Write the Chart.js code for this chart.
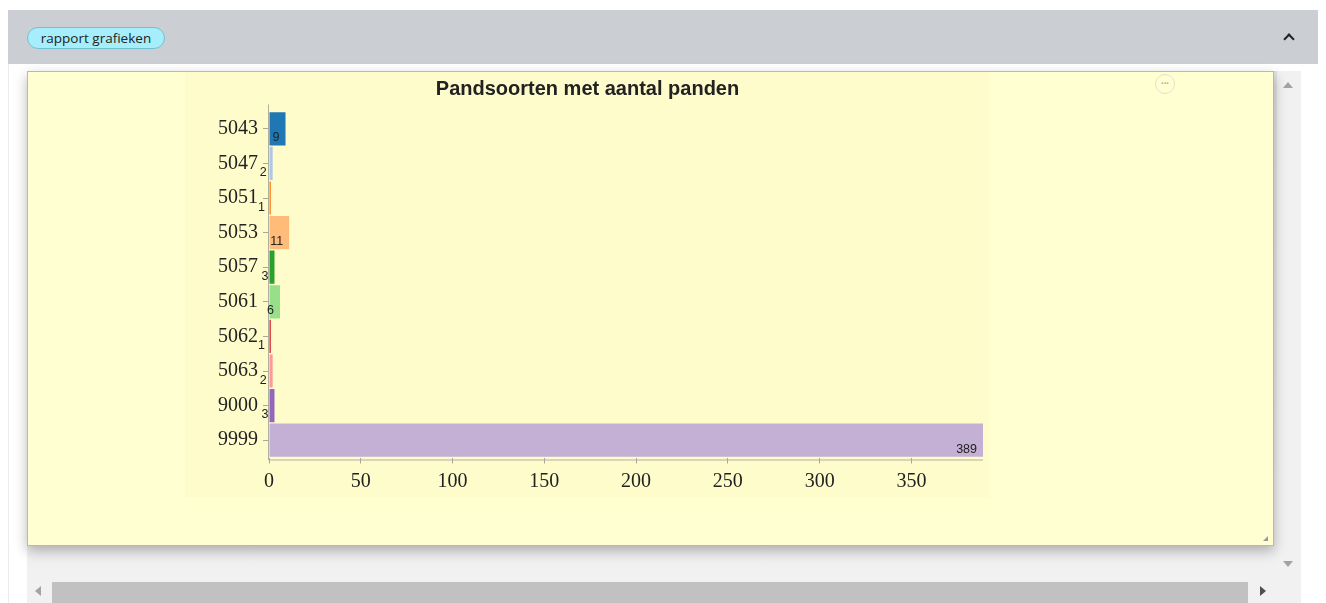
<!DOCTYPE html>
<html>
<head>
<meta charset="utf-8">
<script src="https://cdn.jsdelivr.net/npm/chart.js@4/dist/chart.umd.min.js"></script>
<style>
  html,body{margin:0;padding:0;background:#fff;width:1326px;height:603px;overflow:hidden;position:relative;font-family:"Open Sans","Noto Sans",sans-serif;}
  .abs{position:absolute;}
  #header{left:8px;top:10px;width:1310px;height:54px;background:#cbced2;}
  #pill{left:27px;top:27px;width:136px;height:20px;border-radius:11px;background:#a6eefb;border:1px solid #6ec3d3;font-size:13.5px;line-height:20px;text-align:center;color:#222;}
  #caret{left:1285px;top:35px;width:6px;height:6px;border-left:2.5px solid #222;border-top:2.5px solid #222;transform:rotate(45deg);}
  #leftline{left:8px;top:64px;width:1px;height:539px;background:#ececec;}
  #scrollarea{left:27px;top:71px;width:1250px;height:509px;background:linear-gradient(#e2e2e2 0px,#f1f1f1 100%);}
  #vtrack{left:1277px;top:71px;width:24px;height:532px;background:#f1f1f1;}
  #up{left:1283px;top:82px;width:0;height:0;border-left:5px solid transparent;border-right:5px solid transparent;border-bottom:6px solid #a3a3a3;}
  #down{left:1283px;top:561px;width:0;height:0;border-left:5px solid transparent;border-right:5px solid transparent;border-top:6px solid #a3a3a3;}
  #htrack{left:27px;top:579px;width:1250px;height:24px;background:#f1f1f1;}
  #hthumb{left:52px;top:582px;width:1196px;height:21px;background:#c1c1c1;}
  #lefta{left:35px;top:586px;width:0;height:0;border-top:5px solid transparent;border-bottom:5px solid transparent;border-right:6px solid #a3a3a3;}
  #righta{left:1260px;top:586px;width:0;height:0;border-top:5px solid transparent;border-bottom:5px solid transparent;border-left:6px solid #505050;}
  #panel{left:27px;top:71px;width:1245px;height:473px;background:#ffffd1;border:1px solid #b9b9b0;box-shadow:0 5px 12px rgba(0,0,0,0.28);}
  #dots{left:1155px;top:74px;width:18px;height:18px;border-radius:50%;border:1px solid #e2e2d0;font-size:7px;line-height:18px;text-align:center;color:#aaa;letter-spacing:0px;}
  #grip{left:1263px;top:536px;width:0;height:0;border-left:5px solid transparent;border-bottom:5px solid #999;}
  #chartbox{left:185px;top:72px;width:805px;height:425px;background:#fffccc;}
</style>
</head>
<body>
<div class="abs" id="header"></div>
<div class="abs" id="pill">rapport grafieken</div>
<div class="abs" id="caret"></div>
<div class="abs" id="leftline"></div>
<div class="abs" id="scrollarea"></div>
<div class="abs" id="vtrack"></div>
<div class="abs" id="up"></div>
<div class="abs" id="down"></div>
<div class="abs" id="htrack"></div>
<div class="abs" id="hthumb"></div>
<div class="abs" id="lefta"></div>
<div class="abs" id="righta"></div>
<div class="abs" id="panel"></div>
<div class="abs" id="dots">•••</div>
<div class="abs" id="grip"></div>
<div class="abs" id="chartbox"><canvas id="c" width="805" height="425"></canvas></div>
<script>
const chartTitle = "Pandsoorten met aantal panden";
const categories = ["5043","5047","5051","5053","5057","5061","5062","5063","9000","9999"];
const counts = [9, 2, 1, 11, 3, 6, 1, 2, 3, 389];
const barColors = ["#1f77b4","#aec7e8","#ff7f0e","#ffbb78","#2ca02c","#98df8a","#d62728","#ff9896","#9467bd","#c5b0d5"];
const xTickStep = 50;

const axisLines = {
  id: 'axisLines',
  afterDatasetsDraw(chart) {
    const {ctx, chartArea} = chart;
    ctx.save();
    ctx.strokeStyle = '#b0b0a0';
    ctx.lineWidth = 1;
    ctx.beginPath();
    ctx.moveTo(chartArea.left - 0.5, chartArea.top - 7);
    ctx.lineTo(chartArea.left - 0.5, chartArea.bottom + 2.5);
    ctx.lineTo(chartArea.right, chartArea.bottom + 2.5);
    ctx.stroke();
    ctx.restore();
  }
};

const valueLabels = {
  id: 'valueLabels',
  afterDatasetsDraw(chart) {
    const ctx = chart.ctx;
    const meta = chart.getDatasetMeta(0);
    ctx.save();
    ctx.font = '12.5px "Liberation Sans", Arial, sans-serif';
    ctx.fillStyle = '#222';
    ctx.textAlign = 'right';
    ctx.textBaseline = 'alphabetic';
    meta.data.forEach((bar, i) => {
      const p = bar.getProps(['x','y','height'], true);
      ctx.fillText(String(counts[i]), p.x - 6, p.y + p.height / 2 - 4);
    });
    ctx.restore();
  }
};

new Chart(document.getElementById('c'), {
  type: 'bar',
  data: {
    labels: categories,
    datasets: [{
      data: counts,
      backgroundColor: barColors,
      borderWidth: 0,
      barPercentage: 0.96,
      categoryPercentage: 1.0
    }]
  },
  options: {
    indexAxis: 'y',
    responsive: false,
    animation: false,
    events: [],
    layout: { padding: { left: 7, right: 7, top: 0, bottom: 0 } },
    plugins: {
      legend: { display: false },
      tooltip: { enabled: false },
      title: {
        display: true,
        text: chartTitle,
        color: '#222',
        font: { family: '"Liberation Sans", Arial, sans-serif', size: 20, weight: 'bold', lineHeight: 1.2 },
        padding: { top: 5, bottom: 10.5 }
      }
    },
    scales: {
      x: {
        type: 'linear',
        min: 0,
        max: 389,
        afterFit(scale) { scale.height = 39.5; },
        afterBuildTicks(scale) {
          const t = [];
          for (let v = 0; v <= 350; v += xTickStep) t.push({ value: v });
          scale.ticks = t;
        },
        grid: { drawOnChartArea: false, drawTicks: true, tickLength: 6, color: '#a8a898', offset: false },
        border: { display: false },
        ticks: {
          color: '#222',
          padding: 6,
          font: { family: '"Liberation Serif", "Times New Roman", serif', size: 20 }
        }
      },
      y: {
        afterFit(scale) { scale.width = 77; },
        grid: { drawOnChartArea: false, drawTicks: true, tickLength: 6, color: '#a8a898', offset: false },
        border: { display: false },
        ticks: {
          color: '#222',
          padding: 5,
          font: { family: '"Liberation Serif", "Times New Roman", serif', size: 20 }
        }
      }
    }
  },
  plugins: [axisLines, valueLabels]
});
</script>
</body>
</html>
